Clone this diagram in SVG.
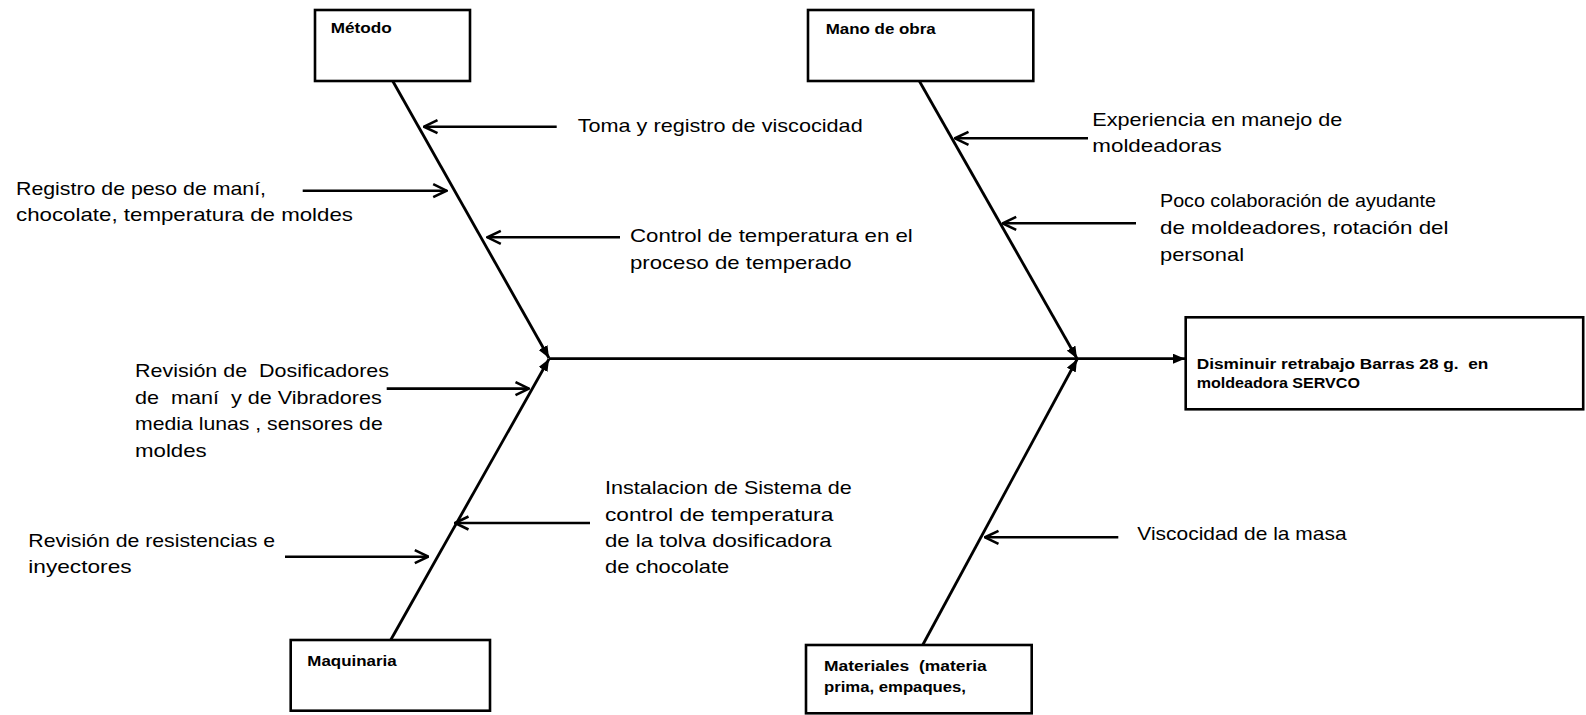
<svg xmlns="http://www.w3.org/2000/svg" width="1586" height="715" viewBox="0 0 1586 715">
<style>
.box{fill:#fff;stroke:#000;stroke-width:2.6}
.bone{fill:none;stroke:#000;stroke-width:2.8}
.sub{fill:none;stroke:#000;stroke-width:2.6}
.t{font-family:"Liberation Sans",Arial,sans-serif;font-size:19px;fill:#000;white-space:pre}
.b{font-family:"Liberation Sans",Arial,sans-serif;font-size:14.5px;font-weight:bold;fill:#000;white-space:pre}
</style>
<defs>
<marker id="fill" viewBox="0 0 12 10" refX="12" refY="5" markerWidth="12" markerHeight="10" markerUnits="userSpaceOnUse" orient="auto">
<path d="M0,0 L12,5 L0,10 Z" fill="#000"/>
</marker>
<marker id="open" viewBox="0 0 16 16" refX="15" refY="8" markerWidth="16" markerHeight="16" markerUnits="userSpaceOnUse" orient="auto">
<path d="M1.5,1.5 L15,8 L1.5,14.5" fill="none" stroke="#000" stroke-width="2.6"/>
</marker>
</defs>
<rect width="1586" height="715" fill="#fff"/>
<g id="connectors">
<line class="bone" x1="392.7" y1="81" x2="549" y2="358" marker-end="url(#fill)"/>
<line class="bone" x1="919.3" y1="81" x2="1077" y2="358.5" marker-end="url(#fill)"/>
<line class="bone" x1="390.7" y1="640" x2="549" y2="359" marker-end="url(#fill)"/>
<line class="bone" x1="922.7" y1="645" x2="1077" y2="359.5" marker-end="url(#fill)"/>
<line class="bone" x1="549" y1="358.7" x2="1185" y2="358.7" marker-end="url(#fill)"/>
<line class="sub" x1="556.7" y1="126.7" x2="424" y2="126.7" marker-end="url(#open)"/>
<line class="sub" x1="302.7" y1="190.7" x2="446.7" y2="190.7" marker-end="url(#open)"/>
<line class="sub" x1="620" y1="237.3" x2="487.3" y2="237.3" marker-end="url(#open)"/>
<line class="sub" x1="1088" y1="138.3" x2="955" y2="138.3" marker-end="url(#open)"/>
<line class="sub" x1="1136" y1="223.3" x2="1002.7" y2="223.3" marker-end="url(#open)"/>
<line class="sub" x1="386.7" y1="388.6" x2="529" y2="388.6" marker-end="url(#open)"/>
<line class="sub" x1="285" y1="556.7" x2="428.3" y2="556.7" marker-end="url(#open)"/>
<line class="sub" x1="590" y1="523" x2="455" y2="523" marker-end="url(#open)"/>
<line class="sub" x1="1118.3" y1="537.3" x2="985" y2="537.3" marker-end="url(#open)"/>
</g>
<g id="metodo">
<rect class="box" x="315" y="10" width="155" height="71"/>
<text class="b" x="330.7" y="33.3" textLength="61" lengthAdjust="spacingAndGlyphs">Método</text>
</g>
<g id="mano-de-obra">
<rect class="box" x="808" y="10" width="225.3" height="71"/>
<text class="b" x="825.7" y="34" textLength="110" lengthAdjust="spacingAndGlyphs">Mano de obra</text>
</g>
<g id="maquinaria">
<rect class="box" x="290.7" y="640" width="199.3" height="70.7"/>
<text class="b" x="307.3" y="666" textLength="89.3" lengthAdjust="spacingAndGlyphs">Maquinaria</text>
</g>
<g id="materiales">
<rect class="box" x="806" y="645" width="225.7" height="68.3"/>
<text class="b" x="824" y="670.7" textLength="162.7" lengthAdjust="spacingAndGlyphs">Materiales  (materia</text>
<text class="b" x="824" y="691.7" textLength="142" lengthAdjust="spacingAndGlyphs">prima, empaques,</text>
</g>
<g id="efecto">
<rect class="box" x="1185.7" y="317.3" width="397.5" height="92"/>
<text class="b" x="1196.7" y="368.5" textLength="291.7" lengthAdjust="spacingAndGlyphs">Disminuir retrabajo Barras 28 g.  en</text>
<text class="b" x="1196.7" y="388.3" textLength="163.3" lengthAdjust="spacingAndGlyphs">moldeadora SERVCO</text>
</g>
<g id="causa-toma">
<text class="t" x="577.7" y="131.5" textLength="285" lengthAdjust="spacingAndGlyphs">Toma y registro de viscocidad</text>
</g>
<g id="causa-registro">
<text class="t" x="16" y="194.5" textLength="250" lengthAdjust="spacingAndGlyphs">Registro de peso de maní,</text>
<text class="t" x="16" y="221" textLength="337" lengthAdjust="spacingAndGlyphs">chocolate, temperatura de moldes</text>
</g>
<g id="causa-control">
<text class="t" x="630" y="242" textLength="282.7" lengthAdjust="spacingAndGlyphs">Control de temperatura en el</text>
<text class="t" x="630" y="268.5" textLength="221.7" lengthAdjust="spacingAndGlyphs">proceso de temperado</text>
</g>
<g id="causa-experiencia">
<text class="t" x="1092.3" y="125.5" textLength="250" lengthAdjust="spacingAndGlyphs">Experiencia en manejo de</text>
<text class="t" x="1092.3" y="152.3" textLength="129.4" lengthAdjust="spacingAndGlyphs">moldeadoras</text>
</g>
<g id="causa-colaboracion">
<text class="t" x="1160" y="207.3" textLength="276" lengthAdjust="spacingAndGlyphs">Poco colaboración de ayudante</text>
<text class="t" x="1160" y="234.3" textLength="288.5" lengthAdjust="spacingAndGlyphs">de moldeadores, rotación del</text>
<text class="t" x="1160" y="261" textLength="84" lengthAdjust="spacingAndGlyphs">personal</text>
</g>
<g id="causa-dosificadores">
<text class="t" x="135" y="377" textLength="254" lengthAdjust="spacingAndGlyphs">Revisión de  Dosificadores</text>
<text class="t" x="135" y="403.7" textLength="246.7" lengthAdjust="spacingAndGlyphs">de  maní  y de Vibradores</text>
<text class="t" x="135" y="430.3" textLength="247.7" lengthAdjust="spacingAndGlyphs">media lunas , sensores de</text>
<text class="t" x="135" y="457" textLength="71.7" lengthAdjust="spacingAndGlyphs">moldes</text>
</g>
<g id="causa-resistencias">
<text class="t" x="28.3" y="547.3" textLength="246.7" lengthAdjust="spacingAndGlyphs">Revisión de resistencias e</text>
<text class="t" x="28.3" y="573.3" textLength="103.3" lengthAdjust="spacingAndGlyphs">inyectores</text>
</g>
<g id="causa-instalacion">
<text class="t" x="605" y="494" textLength="246.7" lengthAdjust="spacingAndGlyphs">Instalacion de Sistema de</text>
<text class="t" x="605" y="520.7" textLength="228.3" lengthAdjust="spacingAndGlyphs">control de temperatura</text>
<text class="t" x="605" y="546.7" textLength="226.7" lengthAdjust="spacingAndGlyphs">de la tolva dosificadora</text>
<text class="t" x="605" y="573.3" textLength="124.3" lengthAdjust="spacingAndGlyphs">de chocolate</text>
</g>
<g id="causa-viscocidad">
<text class="t" x="1137.3" y="540" textLength="209.3" lengthAdjust="spacingAndGlyphs">Viscocidad de la masa</text>
</g>
</svg>
